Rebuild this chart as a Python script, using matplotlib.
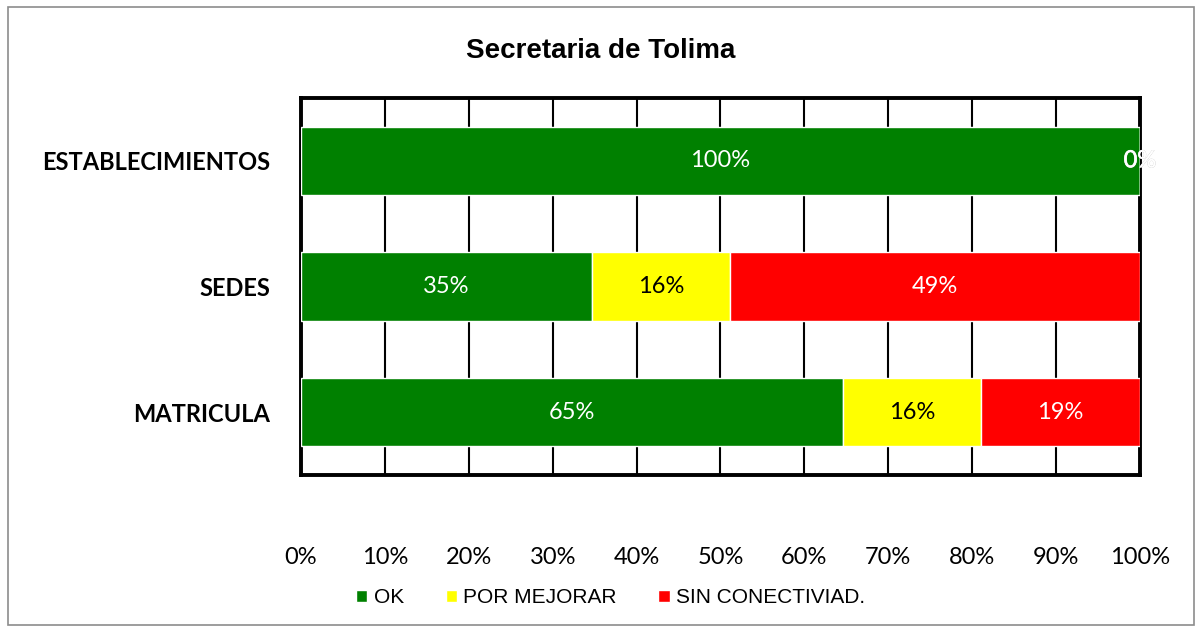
import numpy as np
import matplotlib.pyplot as plt
import matplotlib.patheffects as pe
from matplotlib.patches import Rectangle

categorias = ['ESTABLECIMIENTOS', 'SEDES', 'MATRICULA']
ok = [100.0, 34.7, 64.6]
por_mejorar = [0.0, 16.4, 16.5]
sin_conect = [0.0, 48.9, 18.9]
ticks = [0, 10, 20, 30, 40, 50, 60, 70, 80, 90, 100]

fig = plt.figure(figsize=(12.02, 6.32), dpi=100)
fig.patches.append(Rectangle((0.007, 0.011), 0.986, 0.978, transform=fig.transFigure,
                             fill=False, edgecolor='#8c8c8c', linewidth=1.2))
ax = fig.add_axes([0.2504, 0.2484, 0.698, 0.5966])

y = np.arange(len(categorias))
h = 0.544
series = [(ok, '#008000', 'OK', 'white'),
          (por_mejorar, '#ffff00', 'POR MEJORAR', 'black'),
          (sin_conect, '#ff0000', 'SIN CONECTIVIAD.', 'white')]
left = np.zeros(len(categorias))
for vals, col, lab, tcol in series:
    vals = np.array(vals)
    ax.barh(y, vals, left=left, height=h, color=col, edgecolor='white',
            linewidth=1, label=lab, zorder=3)
    for i, v in enumerate(vals):
        if v > 0:
            ax.text(left[i] + v / 2, y[i], f'{v:.0f}%', ha='center', va='center',
                    color=tcol, fontsize=17, family='Lato', zorder=4)
    left += vals

# etiqueta 0% al final de ESTABLECIMIENTOS
t = ax.text(100, 0, '0%', ha='center', va='center', color='white', fontsize=17,
            family='Lato', zorder=5)
t.set_path_effects([pe.withStroke(linewidth=0.5, foreground='#c8c8c8'), pe.Normal()])

ax.set_xlim(0, 100)
ax.set_ylim(2.5, -0.5)
ax.set_xticks(ticks)
ax.set_xticklabels([f'{v}%' for v in ticks], fontsize=17, family='Lato')
ax.set_yticks(y)
ax.set_yticklabels(categorias, fontsize=17, fontweight='bold', family='Lato')
ax.tick_params(axis='both', length=0)
ax.tick_params(axis='x', pad=52)
ax.tick_params(axis='y', pad=22)
ax.grid(axis='x', color='black', linewidth=1.5, zorder=1)
for s in ax.spines.values():
    s.set_linewidth(2.8)
    s.set_color('black')

fig.text(0.5, 0.92, 'Secretaria de Tolima', ha='center', va='center',
         fontsize=20, fontweight='bold', family='Liberation Sans')

leg = fig.legend(loc='center', bbox_to_anchor=(0.508, 0.054), ncol=3, frameon=False,
                 prop={'family': 'Liberation Sans', 'size': 15},
                 handlelength=0.55, handleheight=0.55, handletextpad=0.3, columnspacing=2.0)

fig.savefig('out.png', dpi=100)
